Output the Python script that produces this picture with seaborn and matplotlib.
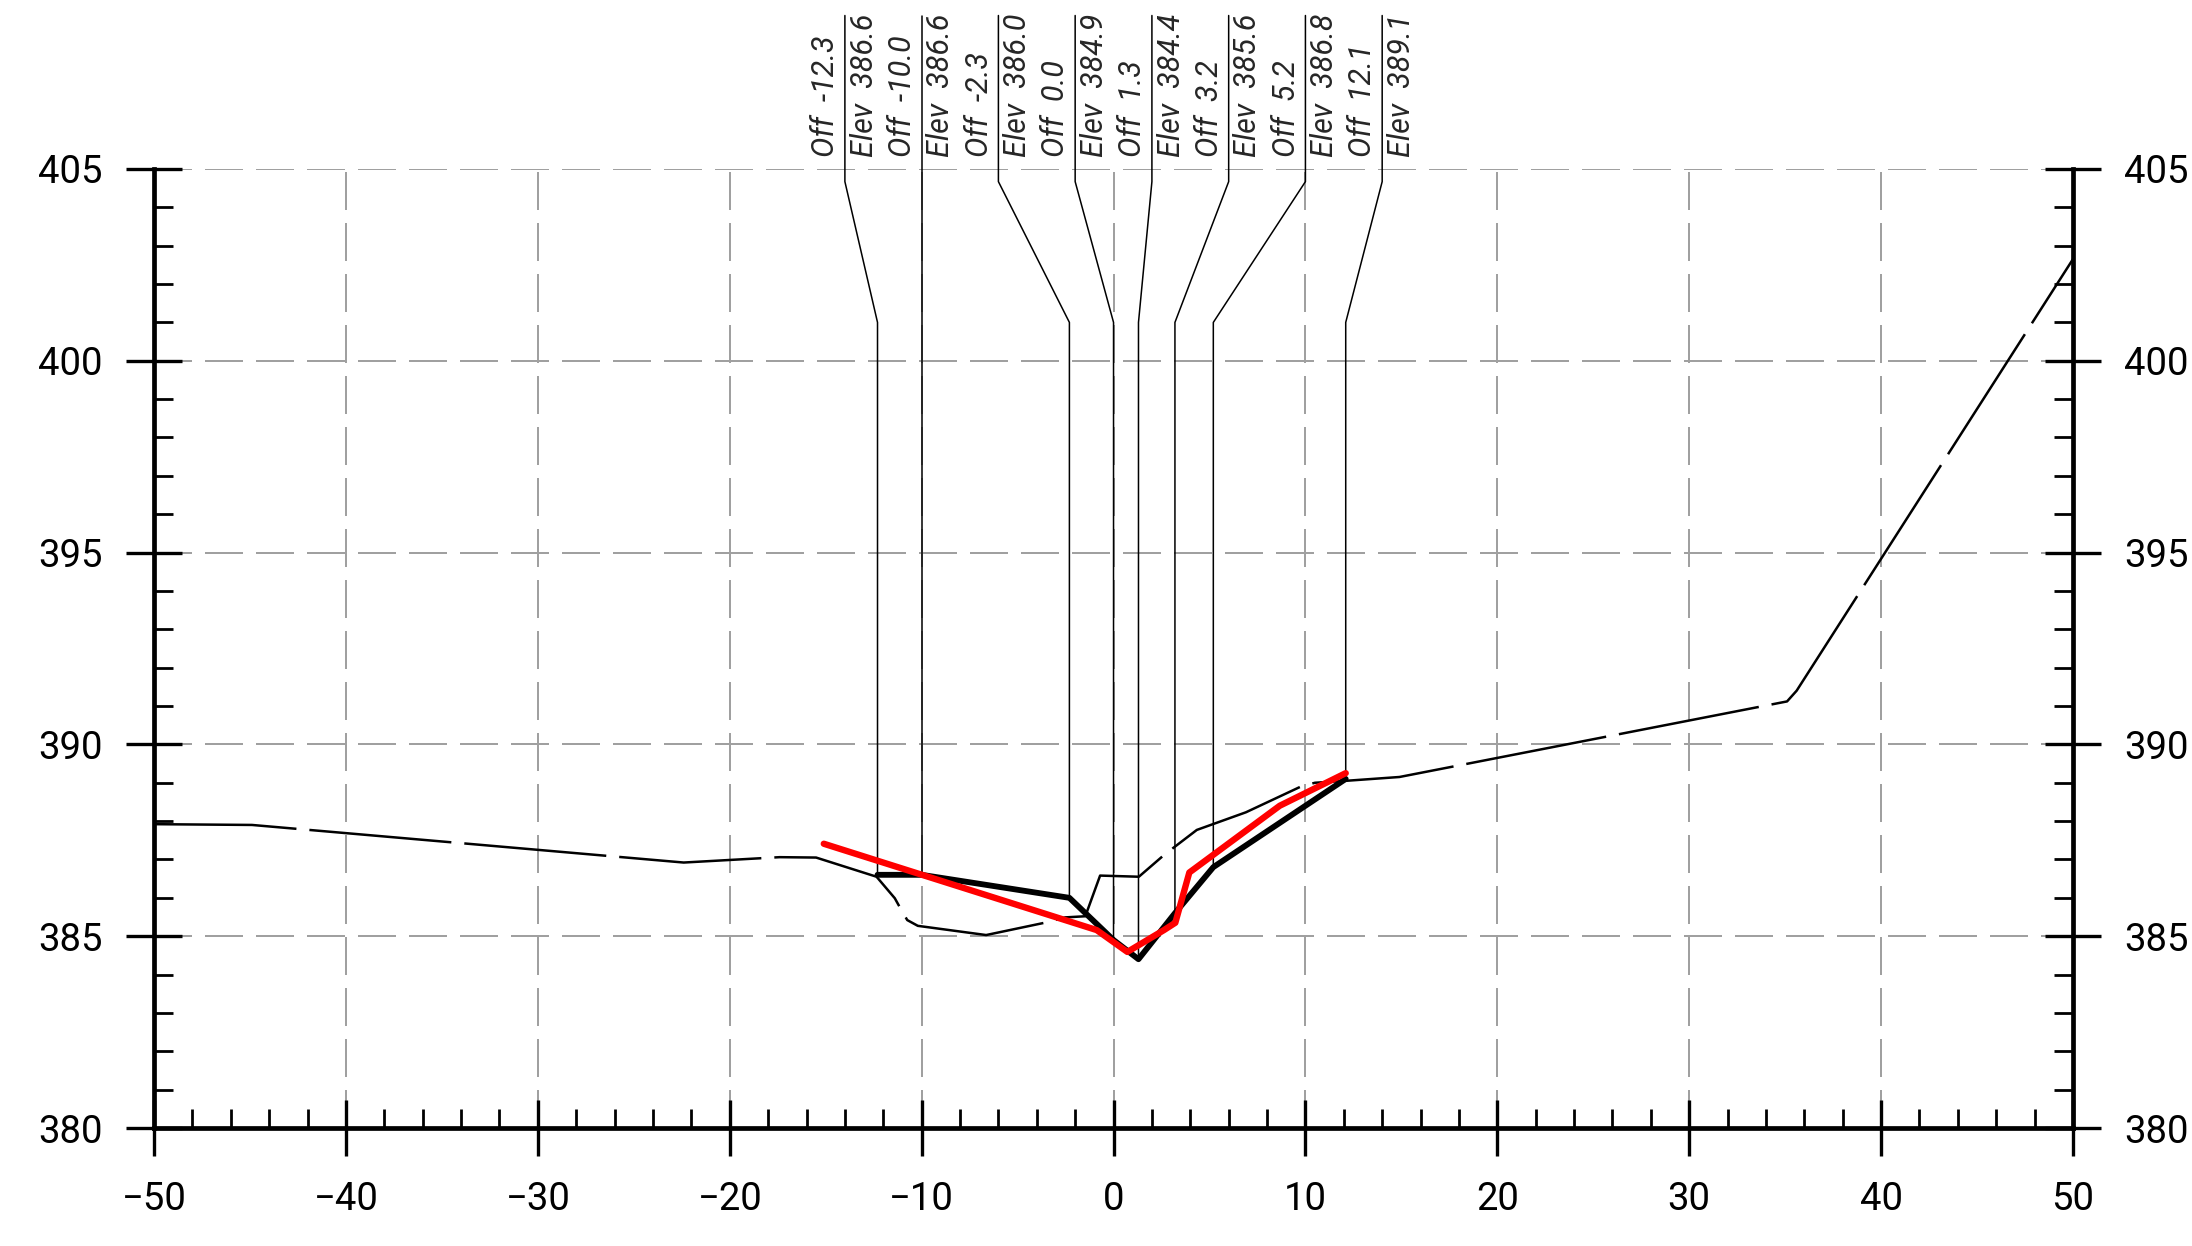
import matplotlib
matplotlib.use('Agg')
import matplotlib.pyplot as plt
from matplotlib.ticker import MultipleLocator
import seaborn as sns

# Existing ground (thin dashed)
eg_x = [-50, -44.9, -22.4, -17.4, -15.5, -12.35, -11.4, -11.1, -10.75, -10.2, -6.64,
        -3.5, -2.52, -1.47, -0.70, 1.32, 2.57, 3.11, 4.34, 6.9, 9.76, 10.5, 12.1,
        14.9, 35.1, 35.6, 50]
eg_y = [387.92, 387.9, 386.92, 387.06, 387.05, 386.55, 385.99, 385.72, 385.42, 385.27,
        385.03, 385.36, 385.49, 385.52, 386.58, 386.55, 387.09, 387.30, 387.77, 388.23,
        388.9, 389.0, 389.05, 389.15, 391.12, 391.4, 402.65]

# Design section (thick black), also used for the labels
offsets = [-12.3, -10.0, -2.3, 0.0, 1.3, 3.2, 5.2, 12.1]
elevs = [386.6, 386.6, 386.0, 384.9, 384.4, 385.6, 386.8, 389.1]

# Red line
red_x = [-15.1, -0.88, 0.72, 2.63, 3.22, 3.95, 8.66, 12.1]
red_y = [387.41, 385.16, 384.59, 385.16, 385.35, 386.66, 388.40, 389.25]

station = '10+70.0'

sns.set_theme(style='white')
plt.rcParams['font.family'] = ['Roboto', 'DejaVu Sans']

fig = plt.figure(figsize=(21.92, 12.46), dpi=100)
ax = fig.add_axes([0.0703, 0.0947, 0.8754, 0.7697])

# existing ground
sns.lineplot(x=eg_x, y=eg_y, sort=False, estimator=None, color='black', lw=1.8, ax=ax)
ax.lines[-1].set_linestyle((0, (57, 5.2)))

# leader lines + labels
for i, (off, elev) in enumerate(zip(offsets, elevs)):
    xt = -14 + 4 * i
    ax.plot([xt, xt, off, off], [409.0, 404.67, 401.0, elev], color='black', lw=1.1,
            clip_on=False, zorder=2)
    ax.text(xt - 1.0, 405.3, f'Off  {off:.1f}', rotation=90, ha='center', va='bottom',
            fontsize=22, style='italic', clip_on=False)
    ax.text(xt + 1.0, 405.3, f'Elev  {elev:.1f}', rotation=90, ha='center', va='bottom',
            fontsize=22, style='italic', clip_on=False)

# design + red
sns.lineplot(x=offsets, y=elevs, sort=False, estimator=None, color='black', lw=4.2,
             ax=ax, zorder=3)
sns.lineplot(x=red_x, y=red_y, sort=False, estimator=None, color='#ff0000', lw=4.6,
             ax=ax, zorder=4)

ax.set_xlim(-50, 50)
ax.set_ylim(380, 405)
ax.set_xticks(range(-50, 51, 10))
ax.set_yticks(range(380, 406, 5))
ax.xaxis.set_minor_locator(MultipleLocator(2))
ax.yaxis.set_minor_locator(MultipleLocator(1))

ax.grid(True, which='major', color='#a0a0a0', lw=1.44, linestyle=(0, (19, 6.5)))
ax.set_axisbelow(True)

ax.tick_params(which='major', direction='inout', length=41, width=2.4, color='black',
               labelsize=27.5, labelcolor='black')
ax.tick_params(which='minor', direction='in', length=14, width=2, color='black')
ax.tick_params(axis='y', which='both', left=True, right=True, labelleft=True,
               labelright=True)
ax.tick_params(axis='y', which='major', pad=16.5)
ax.tick_params(axis='x', which='both', bottom=True, top=False)
ax.tick_params(axis='x', which='major', pad=18)

ax.spines['top'].set_visible(False)
for s in ['left', 'right', 'bottom']:
    ax.spines[s].set_linewidth(3.4)
    ax.spines[s].set_color('black')

ax.set_xlabel('')
ax.set_ylabel('')

ax.text(0, 376.9, station, ha='center', va='top', fontsize=60,
        family='DejaVu Sans Mono', clip_on=False)

fig.savefig('out.png', dpi=100)
